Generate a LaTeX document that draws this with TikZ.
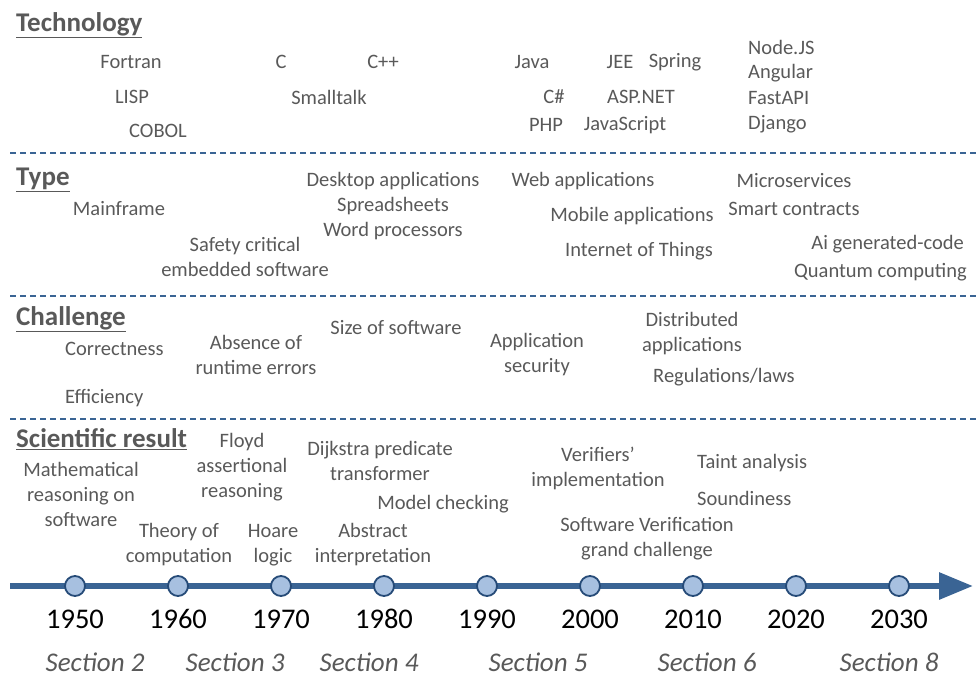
\documentclass[tikz,border=0pt]{standalone}
\usepackage{fontspec}
\setmainfont{Carlito}
\usepackage{tikz}
\usetikzlibrary{arrows.meta}

\definecolor{txtgray}{HTML}{595959}
\definecolor{lineblue}{HTML}{3A6494}
\definecolor{dotfill}{HTML}{A7C0E0}
\definecolor{dotline}{HTML}{264B78}

\tikzset{
  lbl/.style={text=txtgray, inner sep=0pt, align=center, font=\fontsize{20.5}{25}\selectfont},
  heading/.style={text=txtgray, inner sep=0pt, anchor=west, font=\fontsize{27}{30}\selectfont\bfseries},
  year/.style={inner sep=0pt, font=\fontsize{28.5}{30}\selectfont},
  sect/.style={text=txtgray, inner sep=0pt, font=\fontsize{27}{30}\selectfont\itshape},
  sep/.style={draw=lineblue, line width=1.6pt, dash pattern=on 6pt off 4pt},
  dot/.style={circle, draw=dotline, fill=dotfill, line width=1.8pt, minimum size=20pt, inner sep=0pt}
}

\begin{document}
\begin{tikzpicture}[x=1pt, y=-1pt]
    \useasboundingbox (0,0) rectangle (976,676);

    % Separators
    \coordinate (s1a) at (10,153);  \coordinate (s1b) at (976,153);
    \coordinate (s2a) at (10,296);  \coordinate (s2b) at (976,296);
    \coordinate (s3a) at (10,419);  \coordinate (s3b) at (976,419);
    \draw[sep] (s1a) -- (s1b);
    \draw[sep] (s2a) -- (s2b);
    \draw[sep] (s3a) -- (s3b);

    % Technology
    \node[heading] (hTech) at (16,25) {\underline{Technology}};
    \node[lbl] (fortran) at (131,62) {Fortran};
    \node[lbl] (lisp) at (132,97) {LISP};
    \node[lbl] (cobol) at (158,131) {COBOL};
    \node[lbl] (clang) at (281,62) {C};
    \node[lbl] (cpp) at (383,62) {C++};
    \node[lbl] (smalltalk) at (329,97) {Smalltalk};
    \node[lbl] (java) at (532,62) {Java};
    \node[lbl] (csharp) at (554,97) {C\#};
    \node[lbl] (php) at (546,125) {PHP};
    \node[lbl] (jee) at (620,62) {JEE};
    \node[lbl] (spring) at (675,62) {Spring};
    \node[lbl] (aspnet) at (641,97) {ASP.NET};
    \node[lbl] (javascript) at (625,125) {JavaScript};
    \node[lbl, anchor=west] (nodejs) at (748,47) {Node.JS};
    \node[lbl, anchor=west] (angular) at (748,73) {Angular};
    \node[lbl, anchor=west] (fastapi) at (748,98) {FastAPI};
    \node[lbl, anchor=west] (django) at (748,124) {Django};

    % Type
    \node[heading] (hType) at (16,180) {\underline{Type}};
    \node[lbl] (mainframe) at (119,209) {Mainframe};
    \node[lbl] (safety) at (245,257) {Safety critical\\embedded software};
    \node[lbl] (desktop) at (393,206) {Desktop applications\\Spreadsheets\\Word processors};
    \node[lbl] (web) at (583,181) {Web applications};
    \node[lbl] (mobile) at (632,216) {Mobile applications};
    \node[lbl] (iot) at (639,251) {Internet of Things};
    \node[lbl] (micro) at (794,181) {Microservices};
    \node[lbl] (smart) at (794,209) {Smart contracts};
    \node[lbl, anchor=east] (aigen) at (964,244) {Ai generated-code};
    \node[lbl, anchor=east] (quantum) at (967,272) {Quantum computing};

    % Challenge
    \node[heading] (hChal) at (16,319) {\underline{Challenge}};
    \node[lbl, anchor=west] (correct) at (65,349) {Correctness};
    \node[lbl, anchor=west] (effic) at (65,398) {Efficiency};
    \node[lbl] (absence) at (256,355) {Absence of\\runtime errors};
    \node[lbl] (size) at (396,328) {Size of software};
    \node[lbl] (appsec) at (537,355) {Application\\security};
    \node[lbl] (distrib) at (692,334) {Distributed\\applications};
    \node[lbl] (regul) at (724,377) {Regulations/laws};

    % Scientific result
    \node[heading] (hSci) at (16,439) {\underline{Scientific result}};
    \node[lbl] (math) at (81,494) {Mathematical\\reasoning on\\software};
    \node[lbl] (theory) at (179,545) {Theory of\\computation};
    \node[lbl] (floyd) at (242,467) {Floyd\\assertional\\reasoning};
    \node[lbl] (hoare) at (273,545) {Hoare\\logic};
    \node[lbl] (dijkstra) at (380,461) {Dijkstra predicate\\transformer};
    \node[lbl] (model) at (443,504) {Model checking};
    \node[lbl] (abstract) at (373,545) {Abstract\\interpretation};
    \node[lbl] (verif) at (598,468) {Verifiers'\\implementation};
    \node[lbl] (grand) at (647,539) {Software Verification\\grand challenge};
    \node[lbl, anchor=west] (taint) at (697,463) {Taint analysis};
    \node[lbl, anchor=west] (sound) at (697,498) {Soundiness};

    % Timeline
    \coordinate (tStart) at (10,586);
    \coordinate (tEnd) at (973,586);
    \draw[lineblue, line width=6pt, -{Triangle[length=34pt, width=26pt]}] (tStart) -- (tEnd);
    \foreach \i/\yr in {0/1950,1/1960,2/1970,3/1980,4/1990,5/2000,6/2010,7/2020,8/2030} {
        \node[dot] (d\yr) at (75+103*\i,586) {};
        \node[year] (y\yr) at (75+103*\i,619) {\yr};
    }

    % Sections
    \node[sect] (sec2) at (95,662) {Section 2};
    \node[sect] (sec3) at (235,662) {Section 3};
    \node[sect] (sec4) at (369,662) {Section 4};
    \node[sect] (sec5) at (538,662) {Section 5};
    \node[sect] (sec6) at (707,662) {Section 6};
    \node[sect] (sec8) at (889,662) {Section 8};
\end{tikzpicture}
\end{document}
